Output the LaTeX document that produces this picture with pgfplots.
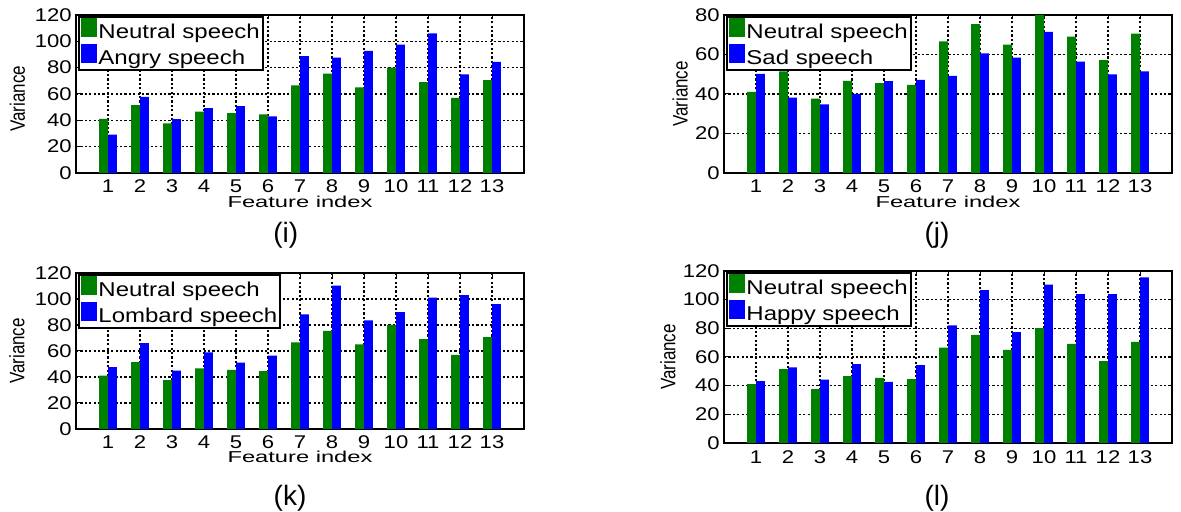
\documentclass[border=0pt]{standalone}
\usepackage{fontspec}
\setmainfont{Liberation Sans}[FakeStretch=1.2]
\newfontfamily\plainfont{Liberation Sans}
\newfontfamily\widefont{Liberation Sans}[FakeStretch=1.5]
\usepackage{pgfplots}
\pgfplotsset{compat=1.18}
\definecolor{mgreen}{RGB}{0,128,0}
\definecolor{mblue}{RGB}{0,0,255}

\pgfplotsset{
  panel/.style={
    scale only axis,
    width=224pt,
    ybar,
    bar width=0.28,
    xmin=0, xmax=14,
    ymin=0,
    xtick={1,...,13},
    grid=major,
    major grid style={black, line width=0.65pt, dash pattern=on 1.1pt off 1.1pt},
    axis line style={black, line width=1pt},
    tick align=inside,
    major tick length=2pt,
    tick style={black, line width=0.5pt},
    /pgf/number format/assume math mode=true,
    tick label style={font=\fontsize{9.2}{10}\selectfont},
    xticklabel style={anchor=center, yshift=-6.6pt, inner sep=0pt},
    yticklabel style={anchor=east, inner sep=0pt, xshift=-2pt},
    legend cell align=left,
    legend style={at={(axis description cs:0.005,0.995)}, anchor=north west,
      draw=black, line width=1pt, inner xsep=1pt, inner ysep=0.5pt,
      font=\fontsize{10}{11}\selectfont, row sep=0pt,
      nodes={inner sep=0.6pt, text height=7.4pt, text depth=2pt}},
    ylabel={\scalebox{1}[1.23]{\plainfont\fontsize{8.5}{9}\selectfont Variance}},
  },
  gbar/.style={fill=mgreen, draw=none, bar shift=-0.14,
    legend image code/.code={\fill[mgreen] (0pt,-2.2pt) rectangle (8pt,7.6pt);}},
  bbar/.style={fill=mblue, draw=none, bar shift=0.14,
    legend image code/.code={\fill[mblue] (0pt,-2.2pt) rectangle (8pt,7.6pt);}},
}

\pgfplotstableread{
x neutral angry sad lombard happy
1  41.1  29.1  50.2  47.5  43.1
2  51.5  57.9  38.2  66.1  52.8
3  37.6  40.9  34.7  44.9  44.2
4  46.6  49.3  40.1  59.0  55.1
5  45.5  50.8  46.5  51.1  42.6
6  44.6  43.0  47.2  56.4  54.4
7  66.6  88.7  49.2  88.1  82.0
8  75.4  87.7  60.6  110.3 106.6
9  65.0  92.7  58.4  83.5  77.4
10 80.1  97.5  71.4  89.9  110.5
11 69.1  106.1 56.4  101.1 103.8
12 57.1  74.8  49.9  102.9 103.8
13 70.6  84.4  51.5  96.0  115.6
}\datatable

\begin{document}
\begin{tikzpicture}
\path[use as bounding box] (0,0) rectangle (590.5pt,256pt);

% (i)
\begin{axis}[panel, at={(38pt,169.5pt)}, anchor=south west, height=79pt,
  ymax=120, ytick={0,20,...,120},
  xlabel={\widefont\fontsize{7.9}{8}\selectfont Feature index},
  xlabel style={at={(axis description cs:0.5,-0.182)}, anchor=center},
  ylabel style={at={(axis description cs:-0.131,0.47)}, anchor=center}]
\addplot[gbar] table[x=x, y=neutral] {\datatable};
\addplot[bbar] table[x=x, y=angry] {\datatable};
\legend{Neutral speech, Angry speech}
\end{axis}

% (j)
\begin{axis}[panel, at={(362pt,169.5pt)}, anchor=south west, height=79pt,
  ymax=80, ytick={0,20,...,80},
  xlabel={\widefont\fontsize{7.9}{8}\selectfont Feature index},
  xlabel style={at={(axis description cs:0.5,-0.182)}, anchor=center},
  ylabel style={at={(axis description cs:-0.098,0.5)}, anchor=center}]
\addplot[gbar] table[x=x, y=neutral] {\datatable};
\addplot[bbar] table[x=x, y=sad] {\datatable};
\legend{Neutral speech, Sad speech}
\end{axis}

% (k)
\begin{axis}[panel, at={(38pt,41.5pt)}, anchor=south west, height=78pt,
  ymax=120, ytick={0,20,...,120},
  xlabel={\widefont\fontsize{7.9}{8}\selectfont Feature index},
  xlabel style={at={(axis description cs:0.5,-0.177)}, anchor=center},
  ylabel style={at={(axis description cs:-0.132,0.5)}, anchor=center}]
\addplot[gbar] table[x=x, y=neutral] {\datatable};
\addplot[bbar] table[x=x, y=lombard] {\datatable};
\legend{Neutral speech, Lombard speech}
\end{axis}

% (l)
\begin{axis}[panel, at={(362pt,34.5pt)}, anchor=south west, height=86pt,
  ymax=120, ytick={0,20,...,120},
  xticklabel style={yshift=-0.6pt},
  ylabel style={at={(axis description cs:-0.125,0.5)}, anchor=center}]
\addplot[gbar] table[x=x, y=neutral] {\datatable};
\addplot[bbar] table[x=x, y=happy] {\datatable};
\legend{Neutral speech, Happy speech}
\end{axis}

\node[inner sep=0pt, font=\plainfont\fontsize{14}{15}\selectfont] at (142.9pt,138.2pt) {(i)};
\node[inner sep=0pt, font=\plainfont\fontsize{14}{15}\selectfont] at (468.5pt,138.2pt) {(j)};
\node[inner sep=0pt, font=\plainfont\fontsize{14}{15}\selectfont] at (145pt,6.9pt) {(k)};
\node[inner sep=0pt, font=\plainfont\fontsize{14}{15}\selectfont] at (468.5pt,6.7pt) {(l)};
\end{tikzpicture}
\end{document}
